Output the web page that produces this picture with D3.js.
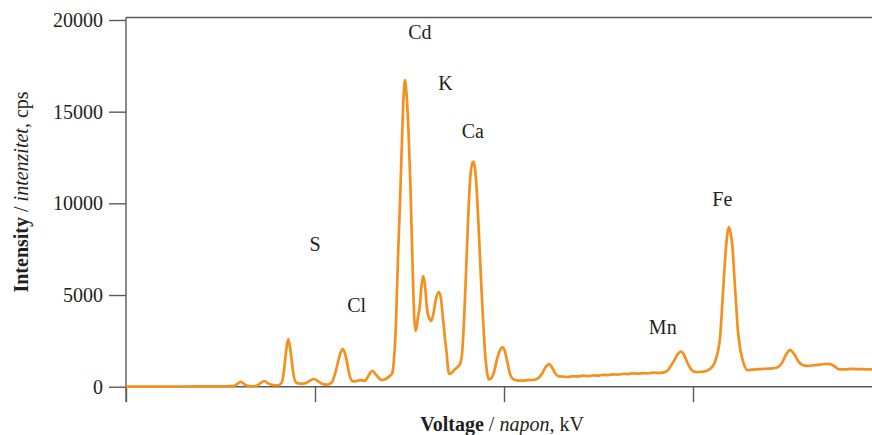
<!DOCTYPE html>
<html>
<head>
<meta charset="utf-8">
<script src="https://cdn.jsdelivr.net/npm/d3@7"></script>
<style>
  html, body { margin: 0; padding: 0; background: #fff; }
  svg { display: block; }
  text { font-family: "Liberation Serif", "Times New Roman", serif; fill: #231f20; }
</style>
</head>
<body>
<svg id="chart" width="872" height="435"></svg>
<script>
// Energy (keV) of each sampled point of the spectrum
const energy = [
  0.000, 0.360, 0.783, 1.048, 1.135, 1.175, 1.214, 1.249, 1.312, 1.376, 1.418, 1.464, 1.503, 1.558, 1.608,
  1.648, 1.667, 1.683, 1.702, 1.717, 1.733, 1.754, 1.772, 1.799, 1.841, 1.894, 1.937, 1.989, 2.032, 2.074,
  2.124, 2.177, 2.212, 2.247, 2.270, 2.294, 2.315, 2.336, 2.360, 2.389, 2.423, 2.476, 2.529, 2.566, 2.606,
  2.646, 2.706, 2.751, 2.794, 2.815, 2.836, 2.857, 2.878, 2.899, 2.921, 2.937, 2.952, 2.968, 2.989, 3.011,
  3.032, 3.051, 3.066, 3.090, 3.111, 3.127, 3.146, 3.164, 3.188, 3.212, 3.230, 3.254, 3.280, 3.312, 3.333,
  3.357, 3.376, 3.394, 3.407, 3.421, 3.450, 3.481, 3.513, 3.534, 3.556, 3.577, 3.598, 3.619, 3.640, 3.656,
  3.675, 3.693, 3.714, 3.735, 3.757, 3.778, 3.799, 3.820, 3.836, 3.862, 3.894, 3.926, 3.958, 3.986, 4.011,
  4.037, 4.063, 4.095, 4.138, 4.190, 4.254, 4.317, 4.360, 4.402, 4.444, 4.479, 4.508, 4.540, 4.571, 4.624,
  4.677, 4.730, 4.783, 4.836, 4.889, 4.942, 4.995, 5.048, 5.101, 5.153, 5.206, 5.259, 5.312, 5.365, 5.418,
  5.471, 5.524, 5.577, 5.630, 5.693, 5.735, 5.767, 5.810, 5.841, 5.873, 5.905, 5.937, 5.968, 6.000, 6.042,
  6.095, 6.148, 6.198, 6.233, 6.265, 6.286, 6.307, 6.328, 6.349, 6.365, 6.381, 6.397, 6.418, 6.437, 6.455,
  6.476, 6.503, 6.534, 6.574, 6.630, 6.693, 6.767, 6.836, 6.889, 6.942, 6.984, 7.026, 7.069, 7.111, 7.153,
  7.217, 7.280, 7.344, 7.407, 7.450, 7.492, 7.537, 7.608, 7.683, 7.767, 7.831, 7.894
];
// Intensity (cps) at each of those energies
const intensity = [
  0, 5, 15, 20, 30, 140, 270, 140, 20, 40, 170, 310, 180, 90, 80,
  230, 700, 1410, 2250, 2600, 2250, 1410, 700, 230, 170, 180, 300, 420, 300, 160,
  110, 230, 700, 1410, 1850, 2050, 1850, 1410, 750, 330, 290, 360, 330, 600, 870,
  650, 360, 430, 600, 700, 1500, 3500, 7000, 10000, 13500, 15800, 16720, 16000, 14000, 10800,
  6700, 3700, 3040, 3800, 4510, 5500, 6030, 5500, 4130, 3700, 3590, 4000, 4800, 5160, 4800,
  3590, 2600, 1800, 1000, 690, 780, 950, 1100, 1230, 1800, 3600, 6200, 9000, 11200, 12000,
  12280, 11900, 10500, 8300, 5800, 3700, 1900, 800, 400, 450, 800, 1500, 2000, 2140, 1900,
  1300, 700, 420, 340, 330, 360, 380, 450, 700, 1100, 1230, 1050, 750, 580, 550,
  530, 570, 560, 600, 580, 620, 600, 650, 630, 670, 660, 700, 690, 730, 710,
  740, 730, 770, 750, 780, 900, 1150, 1500, 1800, 1920, 1740, 1350, 1030, 840, 790,
  815, 870, 1050, 1360, 1960, 2680, 4300, 6000, 7600, 8400, 8710, 8400, 7600, 6000, 4600,
  3000, 1960, 1300, 900, 930, 960, 980, 1000, 1050, 1300, 1740, 1990, 1790, 1410, 1200,
  1140, 1170, 1200, 1250, 1230, 1140, 960, 950, 970, 960, 950, 950
];
// Element labels and the (energy, intensity) anchor of each label
const elementNames  = ["S", "Cl", "Cd", "K", "Ca", "Mn", "Fe"];
const elementEnergy = [2.00, 2.44, 3.11, 3.38, 3.67, 5.68, 6.31];
const elementLabelY = [7400, 4100, 18950, 16160, 13540, 2900, 9880];

const yTicks = [0, 5000, 10000, 15000, 20000];
const xTicks = [0, 2, 4, 6];
const yTitleBold = "Intensity", yTitleItalic = "intenzitet", yTitleRest = ", cps";
const xTitleBold = "Voltage", xTitleItalic = "napon", xTitleRest = ", kV";

const svg = d3.select("#chart");
const x = d3.scaleLinear().domain([0, 7.894]).range([126, 872]);
const y = d3.scaleLinear().domain([0, 20000]).range([386.7, 20]);
const axisColor = "#5a5a5a";

// top frame line
svg.append("line").attr("x1", 126).attr("x2", 872).attr("y1", 17.5).attr("y2", 17.5)
  .attr("stroke", axisColor).attr("stroke-width", 1.4);

// left axis
const gy = svg.append("g").attr("transform", "translate(126,0)")
  .call(d3.axisLeft(y).tickValues(yTicks).tickSize(17).tickPadding(6).tickFormat(d => String(d)));
gy.select(".domain").remove();
gy.selectAll(".tick line").attr("stroke", axisColor).attr("stroke-width", 1.4);
gy.selectAll(".tick text").style("font-family", "Liberation Serif").style("font-size", "20px").attr("fill", "#231f20");
svg.append("line").attr("x1", 126).attr("x2", 126).attr("y1", 17.5).attr("y2", 402)
  .attr("stroke", axisColor).attr("stroke-width", 1.4);

// bottom axis
const gx = svg.append("g").attr("transform", `translate(0,${y(0)})`)
  .call(d3.axisBottom(x).tickValues(xTicks).tickSize(15.5).tickFormat(""));
gx.select(".domain").attr("stroke", axisColor).attr("stroke-width", 1.4).attr("d", `M126,0H872`);
gx.selectAll(".tick line").attr("stroke", axisColor).attr("stroke-width", 1.4);

// spectrum line
const pts = energy.map((e, i) => [e, intensity[i]]);
svg.append("path").datum(pts)
  .attr("fill", "none").attr("stroke", "#f4901e").attr("stroke-width", 2.7)
  .attr("stroke-linejoin", "round")
  .attr("d", d3.line().x(d => x(d[0])).y(d => y(d[1])).curve(d3.curveMonotoneX));

// element labels
svg.append("g").selectAll("text").data(elementNames).join("text")
  .attr("x", (d, i) => x(elementEnergy[i]))
  .attr("y", (d, i) => y(elementLabelY[i]))
  .attr("text-anchor", "middle").style("font-size", "20px").text(d => d);

// y title
const yt = svg.append("text").attr("transform", "translate(28,192) rotate(-90)")
  .attr("text-anchor", "middle").style("font-size", "20px");
yt.append("tspan").style("font-weight", "bold").text(yTitleBold);
yt.append("tspan").text(" / ");
yt.append("tspan").style("font-style", "italic").text(yTitleItalic);
yt.append("tspan").text(yTitleRest);

// x title
const xt = svg.append("text").attr("x", 502).attr("y", 431)
  .attr("text-anchor", "middle").style("font-size", "20px");
xt.append("tspan").style("font-weight", "bold").text(xTitleBold);
xt.append("tspan").text(" / ");
xt.append("tspan").style("font-style", "italic").text(xTitleItalic);
xt.append("tspan").text(xTitleRest);
</script>
</body>
</html>
